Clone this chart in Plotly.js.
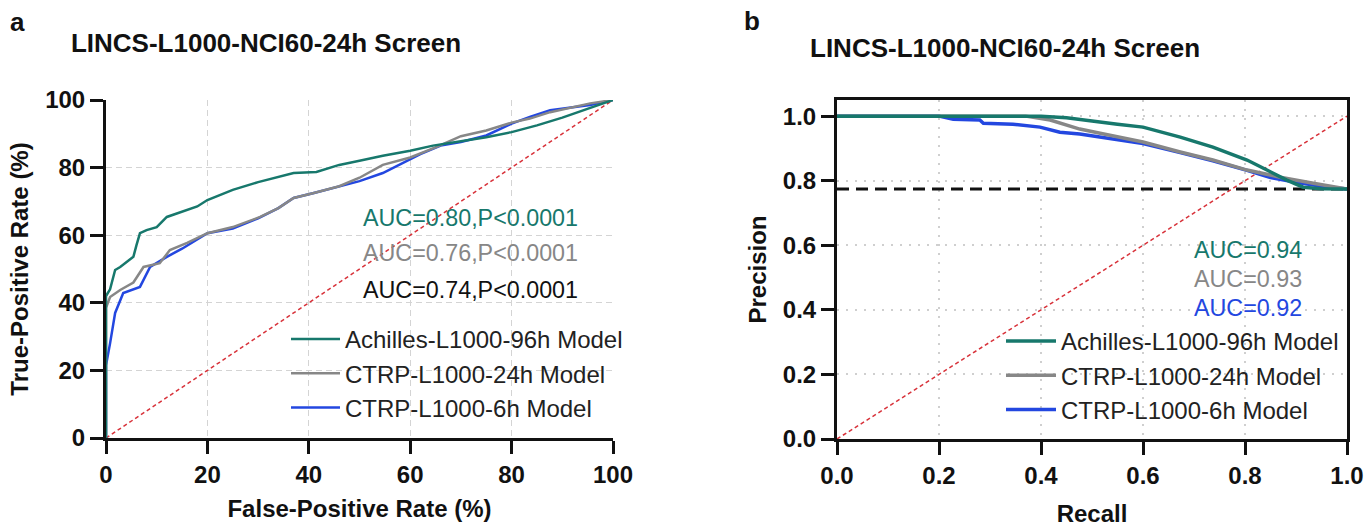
<!DOCTYPE html>
<html>
<head>
<meta charset="utf-8">
<script src="https://cdn.plot.ly/plotly-3.0.1.min.js"></script>
<style>html,body{margin:0;padding:0;background:#fff;}#chart{width:1369px;height:527px;}</style>
</head>
<body>
<div id="chart"></div>
<script>
// ---------- Data ----------
const seriesNames = ["Achilles-L1000-96h Model", "CTRP-L1000-24h Model", "CTRP-L1000-6h Model"];

// Panel a: ROC curves (False-Positive Rate %, True-Positive Rate %)
const rocAchillesFPR = [0,0,0.8,1.8,2.8,4,5.4,6,6.7,8,10,12,14,16,18,20,25,30,37,41.5,46,50,54.6,60,64.5,70,75,80,85,90,95,100];
const rocAchillesTPR = [0,42,44,49.7,50.6,52,53.6,57,60.6,61.5,62.4,65.4,66.5,67.5,68.5,70.4,73.4,75.7,78.4,78.7,80.8,82,83.5,85,86.5,87.8,89,90.5,92.5,94.8,97.3,100];
const rocCtrp24FPR = [0,0,0.8,2.8,5.4,7.4,10.6,12.6,16,20,25,30.4,34,37,41,46,50,54.6,60,65,70,75,80,83.6,87.6,95.5,100];
const rocCtrp24TPR = [0,38.5,41.7,43.8,46,50.6,51.7,55.6,57.7,60.6,62.4,65.4,68,71,72.5,74.5,77,80.8,83,86,89.3,91,93.3,94.5,96.4,99,100];
const rocCtrp6FPR = [0,0,0.8,1.8,3.4,6.7,8.7,12,15,18.5,20,25,30,34,37,41,46,50,54.6,58,62,66,70,75,80,83.6,87.6,95.5,100];
const rocCtrp6TPR = [0,21.5,28,37,42.9,44.7,50.6,53.6,56,59.2,60.6,62,65,68,71,72.5,74.5,76,78.4,81,84,86.5,87.6,89.5,93,95,97,98.5,100];
const rocAUCLabels = ["AUC=0.80,P<0.0001", "AUC=0.76,P<0.0001", "AUC=0.74,P<0.0001"];

// Panel b: precision-recall curves
const prAchillesRecall = [0,0.4,0.45,0.516,0.55,0.6,0.673,0.737,0.804,0.843,0.882,0.914,0.95,1.0];
const prAchillesPrecision = [1,1,0.995,0.981,0.975,0.966,0.935,0.904,0.864,0.833,0.802,0.78,0.775,0.774];
const prCtrp24Recall = [0,0.37,0.418,0.476,0.516,0.6,0.673,0.737,0.804,0.869,0.934,0.986,1.0];
const prCtrp24Precision = [1,1,0.988,0.96,0.947,0.92,0.889,0.864,0.833,0.811,0.792,0.777,0.774];
const prCtrp6Recall = [0,0.2,0.228,0.28,0.287,0.345,0.398,0.437,0.476,0.516,0.6,0.673,0.737,0.804,0.85,0.9,0.95,1.0];
const prCtrp6Precision = [1,1,0.99,0.988,0.978,0.975,0.966,0.95,0.945,0.935,0.915,0.887,0.862,0.832,0.81,0.795,0.783,0.774];
const prAUCLabels = ["AUC=0.94", "AUC=0.93", "AUC=0.92"];
const prBaseline = 0.774;

const rocDiagonal = [0, 100];
const prDiagonal = [0, 1];
const rocTicks = [0, 20, 40, 60, 80, 100];
const prTicks = [0, 0.2, 0.4, 0.6, 0.8, 1.0];

// ---------- Styling ----------
const cTeal = "#17786c", cGray = "#878787", cBlue = "#2347e0", cRed = "#d8323a";
const fontFam = "Liberation Sans, Arial, Helvetica, sans-serif";
const W = 1369, H = 527;
const px = v => v / W, py = v => (H - v) / H;

const traces = [
  {x: rocDiagonal, y: rocDiagonal, xaxis: "x", yaxis: "y", mode: "lines", line: {color: cRed, width: 1.5, dash: "4px,3px"}, showlegend: false, hoverinfo: "skip"},
  {x: rocCtrp6FPR, y: rocCtrp6TPR, xaxis: "x", yaxis: "y", mode: "lines", name: seriesNames[2], line: {color: cBlue, width: 2.5}, legend: "legend", legendrank: 3},
  {x: rocCtrp24FPR, y: rocCtrp24TPR, xaxis: "x", yaxis: "y", mode: "lines", name: seriesNames[1], line: {color: cGray, width: 2.5}, legend: "legend", legendrank: 2},
  {x: rocAchillesFPR, y: rocAchillesTPR, xaxis: "x", yaxis: "y", mode: "lines", name: seriesNames[0], line: {color: cTeal, width: 2.5}, legend: "legend", legendrank: 1},

  {x: prDiagonal, y: prDiagonal, xaxis: "x2", yaxis: "y2", mode: "lines", line: {color: cRed, width: 1.5, dash: "4px,3px"}, showlegend: false, hoverinfo: "skip"},
  {x: [0, 1], y: [prBaseline, prBaseline], xaxis: "x2", yaxis: "y2", mode: "lines", line: {color: "#111", width: 3, dash: "12px,7px"}, showlegend: false, hoverinfo: "skip"},
  {x: prCtrp6Recall, y: prCtrp6Precision, xaxis: "x2", yaxis: "y2", mode: "lines", name: seriesNames[2], line: {color: cBlue, width: 3.5}, legend: "legend2", legendrank: 3},
  {x: prCtrp24Recall, y: prCtrp24Precision, xaxis: "x2", yaxis: "y2", mode: "lines", name: seriesNames[1], line: {color: cGray, width: 3.5}, legend: "legend2", legendrank: 2},
  {x: prAchillesRecall, y: prAchillesPrecision, xaxis: "x2", yaxis: "y2", mode: "lines", name: seriesNames[0], line: {color: cTeal, width: 3.5}, legend: "legend2", legendrank: 1}
];

const tickFont = {family: fontFam, size: 24, color: "#111", weight: "bold"};
const titleFont = {family: fontFam, size: 24, color: "#111", weight: "bold"};
const legendFont = {family: fontFam, size: 24, color: "#222"};

const axisCommon = {
  showline: true, linecolor: "#111", linewidth: 3,
  ticks: "outside", ticklen: 13, tickwidth: 3, tickcolor: "#111",
  tickfont: tickFont, zeroline: false, fixedrange: true
};

const layout = {
  width: W, height: H,
  margin: {l: 0, r: 0, t: 0, b: 0},
  paper_bgcolor: "#fff", plot_bgcolor: "#fff",
  font: {family: fontFam},
  title: {text: "LINCS-L1000-NCI60-24h Screen", font: {family: fontFam, size: 26, color: "#111", weight: "bold"},
          xref: "paper", yref: "paper", x: px(266), y: py(43), xanchor: "center", yanchor: "middle"},
  xaxis: Object.assign({}, axisCommon, {
    domain: [px(106), px(613)], range: [0, 100], anchor: "y",
    tickvals: rocTicks, showgrid: true, gridcolor: "#d4d4d4", griddash: "6px,4px", gridwidth: 1,
    title: {text: "False-Positive Rate (%)", font: titleFont, standoff: 14}
  }),
  yaxis: Object.assign({}, axisCommon, {
    domain: [py(438), py(100)], range: [0, 100], anchor: "x",
    tickvals: rocTicks, showgrid: true, gridcolor: "#d4d4d4", griddash: "6px,4px", gridwidth: 1,
    title: {text: "True-Positive Rate (%)", font: titleFont, standoff: 10}
  }),
  xaxis2: Object.assign({}, axisCommon, {
    domain: [px(837), px(1347)], range: [0, 1], anchor: "y2", mirror: true,
    tickvals: prTicks, tickformat: ".1f", showgrid: true, gridcolor: "#cfcfcf", griddash: "2px,7px", gridwidth: 2,
    title: {text: "Recall", font: titleFont, standoff: 18}
  }),
  yaxis2: Object.assign({}, axisCommon, {
    domain: [py(439), py(100)], range: [0, 1.05], anchor: "x2", mirror: true,
    tickvals: prTicks, tickformat: ".1f", showgrid: true, gridcolor: "#cfcfcf", griddash: "2px,7px", gridwidth: 2,
    title: {text: "Precision", font: titleFont, standoff: 10}
  }),
  legend: {x: px(286), y: py(317), xanchor: "left", yanchor: "top", bgcolor: "rgba(0,0,0,0)",
           font: legendFont, tracegroupgap: 0, itemwidth: 49, traceorder: "normal"},
  legend2: {x: px(1001), y: py(319), xanchor: "left", yanchor: "top", bgcolor: "rgba(0,0,0,0)",
            font: legendFont, tracegroupgap: 0, itemwidth: 50, traceorder: "normal"},
  annotations: [
    {text: "a", xref: "paper", yref: "paper", x: px(8), y: py(22), xanchor: "left", yanchor: "middle", showarrow: false,
     font: {family: fontFam, size: 26, color: "#111", weight: "bold"}},
    {text: "b", xref: "paper", yref: "paper", x: px(742), y: py(21), xanchor: "left", yanchor: "middle", showarrow: false,
     font: {family: fontFam, size: 26, color: "#111", weight: "bold"}},
    {text: "LINCS-L1000-NCI60-24h Screen", xref: "paper", yref: "paper", x: px(1005), y: py(48), xanchor: "center", yanchor: "middle", showarrow: false,
     font: {family: fontFam, size: 26, color: "#111", weight: "bold"}},
    {text: rocAUCLabels[0], xref: "x", yref: "y", x: 71.8, y: 65.1, showarrow: false, font: {family: fontFam, size: 23.3, color: cTeal}},
    {text: rocAUCLabels[1], xref: "x", yref: "y", x: 71.8, y: 54.7, showarrow: false, font: {family: fontFam, size: 23.3, color: cGray}},
    {text: rocAUCLabels[2], xref: "x", yref: "y", x: 71.8, y: 43.8, showarrow: false, font: {family: fontFam, size: 23.3, color: "#111"}},
    {text: prAUCLabels[0], xref: "x2", yref: "y2", x: 0.806, y: 0.585, showarrow: false, font: {family: fontFam, size: 23.3, color: cTeal}},
    {text: prAUCLabels[1], xref: "x2", yref: "y2", x: 0.806, y: 0.495, showarrow: false, font: {family: fontFam, size: 23.3, color: cGray}},
    {text: prAUCLabels[2], xref: "x2", yref: "y2", x: 0.806, y: 0.406, showarrow: false, font: {family: fontFam, size: 23.3, color: cBlue}}
  ]
};

Plotly.newPlot("chart", traces, layout, {displayModeBar: false, staticPlot: true});
</script>
</body>
</html>
